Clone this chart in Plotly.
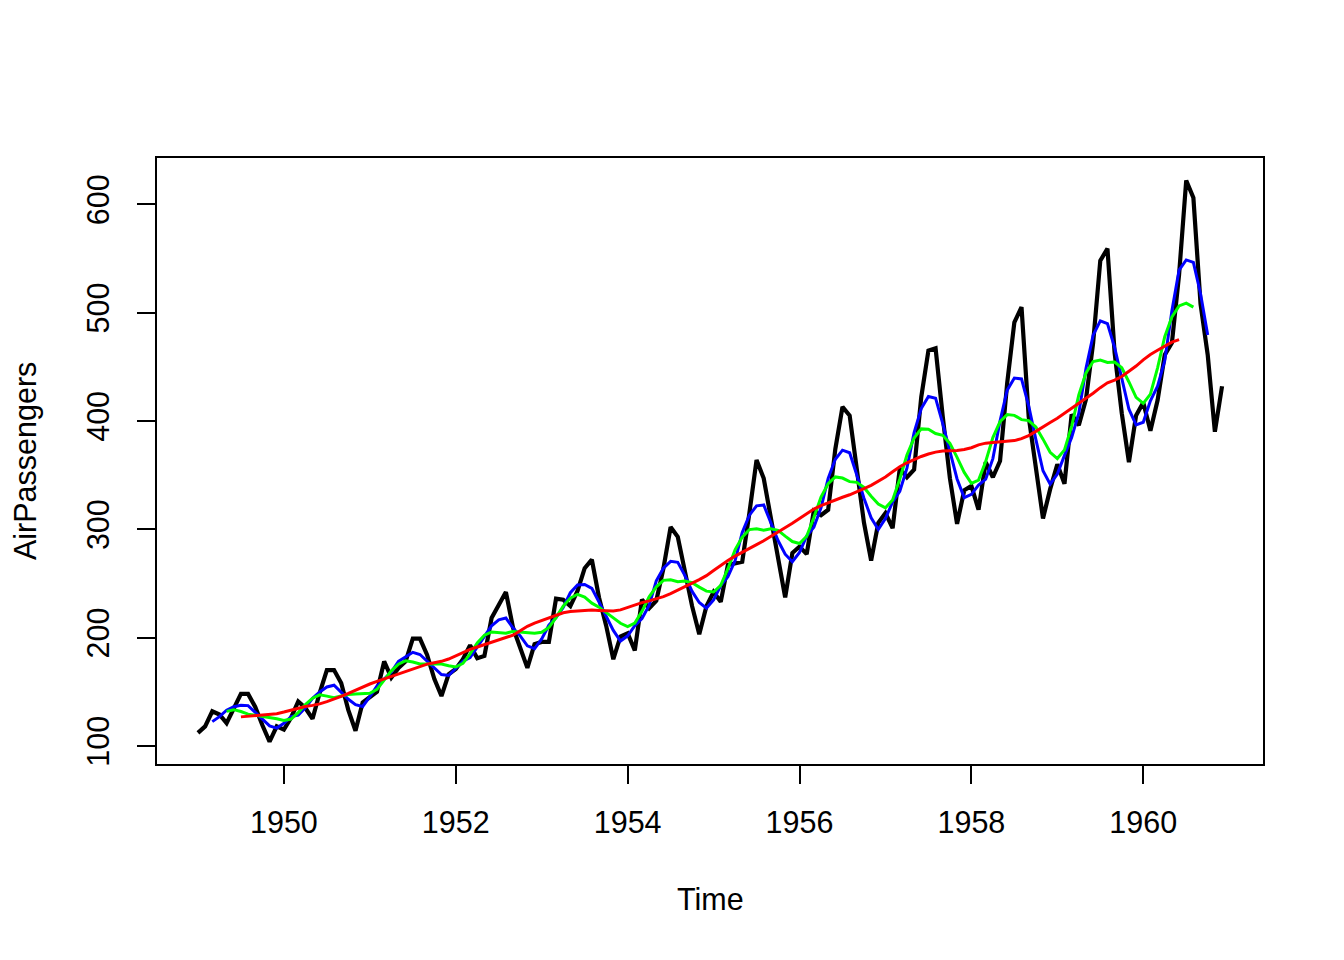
import plotly.graph_objects as go

# AirPassengers monthly totals (thousands), Jan 1949 - Dec 1960
start_year = 1949
passengers = [
    112, 118, 132, 129, 121, 135, 148, 148, 136, 119, 104, 118,
    115, 126, 141, 135, 125, 149, 170, 170, 158, 133, 114, 140,
    145, 150, 178, 163, 172, 178, 199, 199, 184, 162, 146, 166,
    171, 180, 193, 181, 183, 218, 230, 242, 209, 191, 172, 194,
    196, 196, 236, 235, 229, 243, 264, 272, 237, 211, 180, 201,
    204, 188, 235, 227, 234, 264, 302, 293, 259, 229, 203, 229,
    242, 233, 267, 269, 270, 315, 364, 347, 312, 274, 237, 278,
    284, 277, 317, 313, 318, 374, 413, 405, 355, 306, 271, 306,
    315, 301, 356, 348, 355, 422, 465, 467, 404, 347, 305, 336,
    340, 318, 362, 348, 363, 435, 491, 505, 404, 359, 310, 337,
    360, 342, 406, 396, 420, 472, 548, 559, 463, 407, 362, 405,
    417, 391, 419, 461, 472, 535, 622, 606, 508, 461, 390, 432,
]
ma_orders = [5, 8, 12]          # moving-average orders drawn in the reference
ma_colors = ["#0000FF", "#00FF00", "#FF0000"]
x_ticks = [1950, 1952, 1954, 1956, 1958, 1960]
y_ticks = [100, 200, 300, 400, 500, 600]

times = [start_year + i / 12 for i in range(len(passengers))]


def centered_ma(values, order):
    """Centred moving average (as forecast::ma in R): 2xk for even k."""
    n = len(values)
    out = [None] * n
    h = order // 2
    if order % 2 == 1:
        for i in range(h, n - h):
            out[i] = sum(values[i - h:i + h + 1]) / order
    else:
        w = [0.5] + [1.0] * (order - 1) + [0.5]
        for i in range(h, n - h):
            seg = values[i - h:i + h + 1]
            out[i] = sum(a * b for a, b in zip(w, seg)) / order
    return out


FONT = "Liberation Sans, Arial, sans-serif"
FS = 30.5

# target plot box on screen: x 157..1263, y 157..763 (page body has 8px margin)
L, T, PW, PH = 149, 150, 1106, 606
W, H = 1344, 960

fig = go.Figure()
fig.add_trace(go.Scatter(x=times, y=passengers, mode="lines",
                         line=dict(color="black", width=4.2), showlegend=False))
for order, col in zip(ma_orders, ma_colors):
    ma = centered_ma(passengers, order)
    xs = [t for t, v in zip(times, ma) if v is not None]
    ys = [v for v in ma if v is not None]
    fig.add_trace(go.Scatter(x=xs, y=ys, mode="lines",
                             line=dict(color=col, width=3), showlegend=False))

xmin, xmax = times[0], times[-1]
ymin, ymax = min(passengers), max(passengers)
dx = (xmax - xmin) * 0.04
dy = (ymax - ymin) * 0.04

fig.update_layout(
    width=W, height=H,
    paper_bgcolor="white", plot_bgcolor="white",
    margin=dict(l=L, r=W - L - PW, t=T, b=H - T - PH),
    font=dict(family=FONT, size=FS, color="black"),
)
fig.update_xaxes(
    range=[xmin - dx, xmax + dx], tickvals=x_ticks, ticktext=[str(v) for v in x_ticks],
    showgrid=False, zeroline=False, showline=True, mirror=True, linecolor="black",
    linewidth=2, ticks="outside", ticklen=18, tickwidth=2, tickcolor="black",
    ticklabelstandoff=12, tickfont=dict(family=FONT, size=FS, color="black"),
)
fig.update_yaxes(
    range=[ymin - dy, ymax + dy], tickvals=y_ticks, ticktext=[str(v) for v in y_ticks],
    showgrid=False, zeroline=False, showline=True, mirror=True, linecolor="black",
    linewidth=2, ticks="outside", ticklen=18, tickwidth=2, tickcolor="black",
    tickangle=-90, ticklabelstandoff=16, tickfont=dict(family=FONT, size=FS, color="black"),
)
# "Time" centred at screen y ~899
fig.add_annotation(text="Time", x=0.5, xref="paper",
                   y=(T + PH - (899 - 8)) / PH, yref="paper", yanchor="middle",
                   showarrow=False, font=dict(family=FONT, size=FS, color="black"))
# "AirPassengers" centred at screen x ~25
fig.add_annotation(text="AirPassengers", x=((25 - 8) - L) / PW, xref="paper",
                   y=0.5, yref="paper", textangle=-90, showarrow=False,
                   xanchor="center", yanchor="middle",
                   font=dict(family=FONT, size=FS, color="black"))

fig.write_html("out.html")
